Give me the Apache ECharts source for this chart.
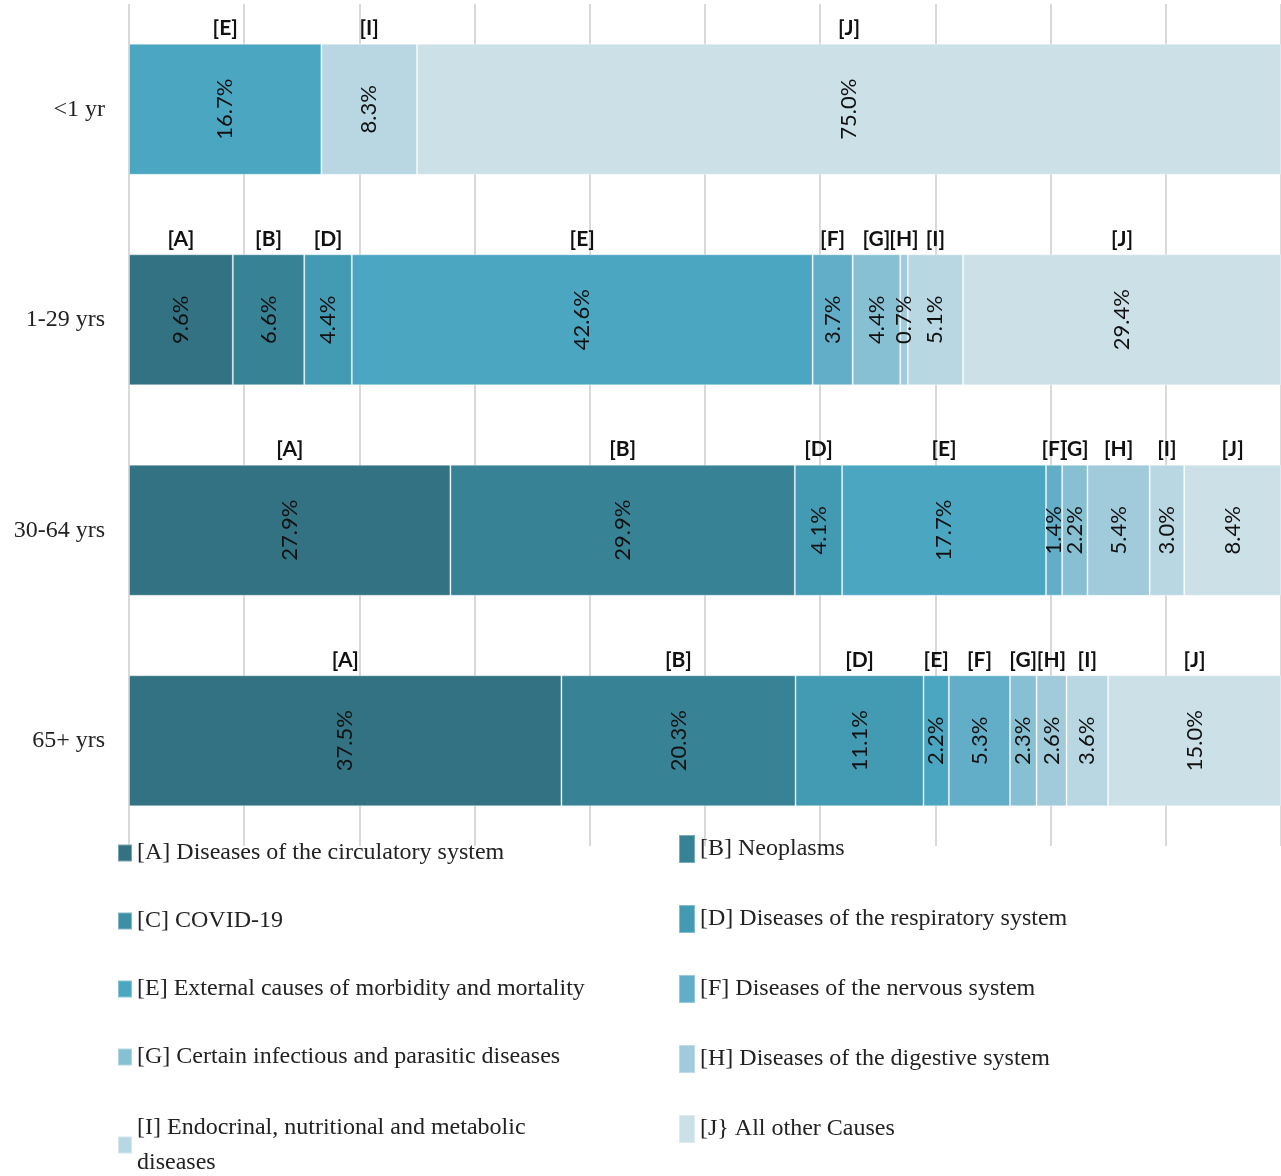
<!DOCTYPE html>
<html>
<head>
<meta charset="utf-8">
<script src="https://cdn.jsdelivr.net/npm/echarts@6/dist/echarts.min.js"></script>
<style>
  html, body { margin: 0; padding: 0; background: #fff; }
  #main { width: 1281px; height: 1176px; }
</style>
</head>
<body>
<div id="main"></div>
<script>
// categories (top to bottom)
var ageGroups = ['<1 yr', '1-29 yrs', '30-64 yrs', '65+ yrs'];

// cause codes + legend names
var codes = ['A', 'B', 'C', 'D', 'E', 'F', 'G', 'H', 'I', 'J'];
var causeNames = [
    '[A] Diseases of the circulatory system',
    '[B] Neoplasms',
    '[C] COVID-19',
    '[D] Diseases of the respiratory system',
    '[E] External causes of morbidity and mortality',
    '[F] Diseases of the nervous system',
    '[G] Certain infectious and parasitic diseases',
    '[H] Diseases of the digestive system',
    '[I] Endocrinal, nutritional and metabolic diseases',
    '[J} All other Causes'
];

// percentages per age group (null = no segment)
var valA = [null, 9.6, 27.9, 37.5];
var valB = [null, 6.6, 29.9, 20.3];
var valC = [null, null, null, null];
var valD = [null, 4.4, 4.1, 11.1];
var valE = [16.7, 42.6, 17.7, 2.2];
var valF = [null, 3.7, 1.4, 5.3];
var valG = [null, 4.4, 2.2, 2.3];
var valH = [null, 0.7, 5.4, 2.6];
var valI = [8.3, 5.1, 3.0, 3.6];
var valJ = [75.0, 29.4, 8.4, 15.0];

var values = [valA, valB, valC, valD, valE, valF, valG, valH, valI, valJ];

var colors = ['#327283', '#388296', '#3d8fa6', '#439bb3', '#4aa6c1',
              '#62aec8', '#88c0d3', '#a1cadb', '#b9d7e2', '#cce0e8'];

// each bar fills the full width, so scale by the row total
var rowTotals = ageGroups.map(function (g, i) {
    var s = 0;
    values.forEach(function (arr) { if (arr[i] != null) s += arr[i]; });
    return s;
});

function scaled(arr) {
    return arr.map(function (v, i) {
        return v == null ? null : v / rowTotals[i] * 100;
    });
}

var series = [];
// main bars with rotated % labels
values.forEach(function (arr, k) {
    series.push({
        name: causeNames[k],
        type: 'bar',
        stack: 'total',
        barWidth: 131,
        barGap: '-100%',
        data: scaled(arr),
        itemStyle: {
            color: colors[k],
            borderColor: 'rgba(255,255,255,0.35)',
            borderWidth: 1
        },
        label: {
            show: true,
            position: 'inside',
            rotate: 90,
            fontFamily: 'Lato',
            fontSize: 22,
            color: '#111',
            formatter: function (p) {
                return arr[p.dataIndex].toFixed(1) + '%';
            }
        },
        emphasis: { disabled: true }
    });
});
// transparent copies that carry the [X] tags above each segment
values.forEach(function (arr, k) {
    series.push({
        name: 'tag' + codes[k],
        type: 'bar',
        stack: 'tags',
        barWidth: 131,
        barGap: '-100%',
        silent: true,
        data: scaled(arr),
        itemStyle: { color: 'transparent' },
        label: {
            show: true,
            position: 'top',
            distance: 5,
            fontFamily: 'Lato',
            fontWeight: 'bold',
            fontSize: 21,
            color: '#111',
            formatter: '[' + codes[k] + ']'
        },
        emphasis: { disabled: true }
    });
});

function legendFmt(name) {
    if (name.indexOf('[I]') === 0) {
        return '[I] Endocrinal, nutritional and metabolic\ndiseases';
    }
    return name;
}

var legendFont = {
    fontFamily: 'Liberation Serif',
    fontSize: 24,
    color: '#222'
};

var myChart = echarts.init(document.getElementById('main'));
myChart.setOption({
    animation: false,
    grid: {
        left: 129,
        right: 0,
        top: 4,
        bottom: 330
    },
    xAxis: {
        type: 'value',
        min: 0,
        max: 100,
        interval: 10,
        axisLabel: { show: false },
        axisLine: { show: false },
        axisTick: { show: false },
        splitLine: { lineStyle: { color: '#d9d9d9', width: 2 } }
    },
    yAxis: {
        type: 'category',
        data: ageGroups,
        inverse: true,
        axisLine: { show: false },
        axisTick: { show: false },
        axisLabel: {
            margin: 24,
            fontFamily: 'Liberation Serif',
            fontSize: 24,
            color: '#222'
        }
    },
    legend: [{
        // left column
        orient: 'vertical',
        left: 117,
        top: 840,
        padding: 0,
        itemWidth: 14,
        itemHeight: 17,
        itemGap: 42,
        icon: 'rect',
        selectedMode: false,
        data: [causeNames[0], causeNames[2], causeNames[4], causeNames[6]],
        textStyle: Object.assign({ lineHeight: 26 }, legendFont)
    }, {
        // two-line [I] entry
        orient: 'vertical',
        left: 117,
        top: 1110,
        padding: 0,
        itemWidth: 14,
        itemHeight: 17,
        icon: 'rect',
        selectedMode: false,
        data: [causeNames[8]],
        formatter: legendFmt,
        textStyle: Object.assign({ lineHeight: 35 }, legendFont)
    }, {
        // right column
        orient: 'vertical',
        left: 678,
        top: 832,
        padding: 0,
        itemWidth: 16,
        itemHeight: 28,
        itemGap: 36,
        icon: 'rect',
        selectedMode: false,
        data: [causeNames[1], causeNames[3], causeNames[5], causeNames[7], causeNames[9]],
        textStyle: Object.assign({ lineHeight: 34 }, legendFont)
    }],
    series: series
});
</script>
</body>
</html>
